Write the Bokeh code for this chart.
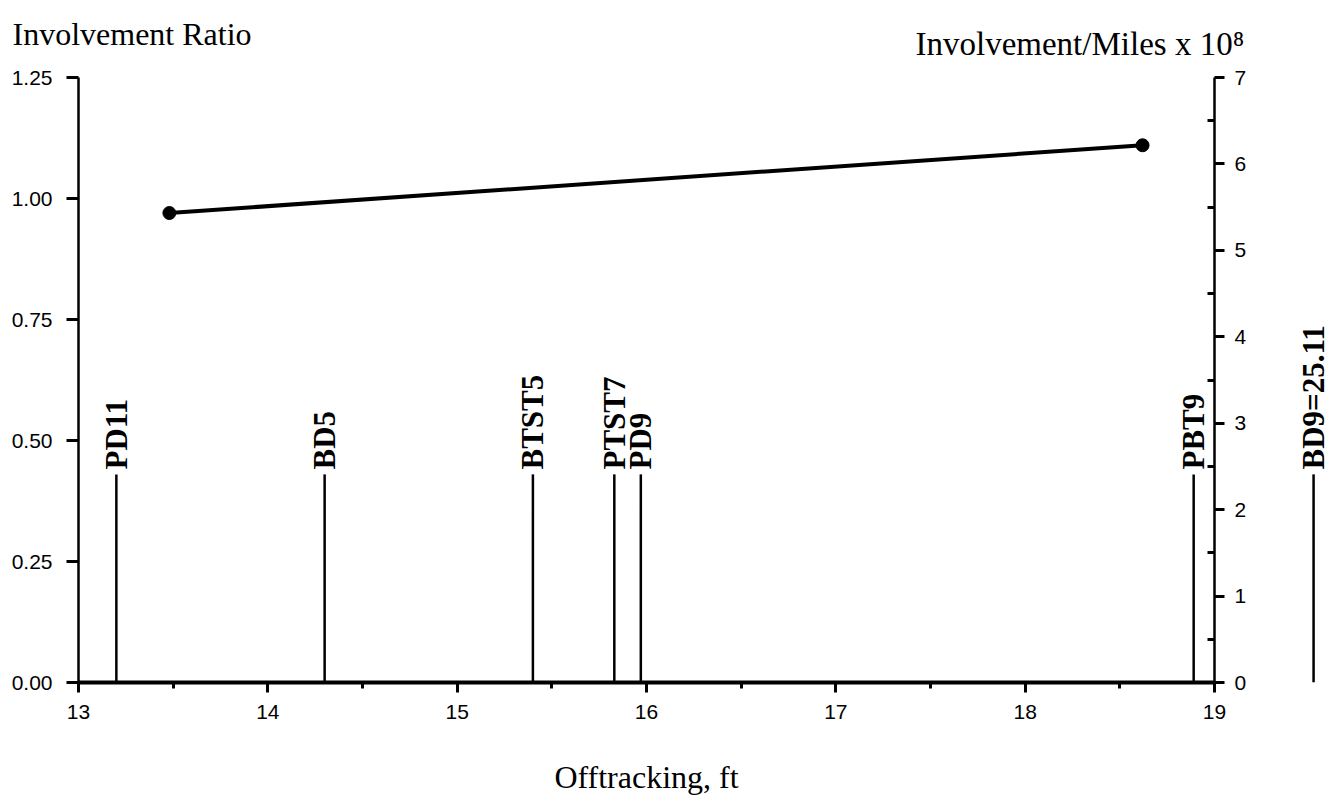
import math
from bokeh.plotting import figure
from bokeh.models import Range1d, LinearAxis, FixedTicker, NumeralTickFormatter, ColumnDataSource
from bokeh.layouts import column, row
from bokeh.embed import file_html
from bokeh.resources import INLINE
from bokeh.core.properties import value

# ---------------- data ----------------
x_ticks = [13, 14, 15, 16, 17, 18, 19]
x_minor_ticks = [13.5, 14.5, 15.5, 16.5, 17.5, 18.5]
ratio_ticks = [0.0, 0.25, 0.50, 0.75, 1.00, 1.25]
rate_ticks = [0, 1, 2, 3, 4, 5, 6, 7]
rate_minor_ticks = [0.5, 1.5, 2.5, 3.5, 4.5, 5.5, 6.5]

offtracking = [13.48, 18.62]          # ft
involvement_ratio = [0.97, 1.11]

vehicle_names = ["PD11", "BD5", "BTST5", "PTST7", "PD9", "PBT9"]
vehicle_offtracking = [13.20, 14.30, 15.40, 15.83, 15.97, 18.89]

offscale_names = ["BD9"]
offscale_offtracking = [25.11]

# ---------------- styling / layout constants ----------------
SERIF = "Liberation Serif"
SANS = "Liberation Sans"
W = 1337
H = 803
C_H = 62
ROW_H = H - C_H
A_W = 1250
B_W = W - A_W
RATIO_MAX = 1.25
RATE_MAX = 7
MARK_TOP = 0.43
LABEL_Y = 0.44
LABEL_FONT = "31px"


def bare(fig):
    fig.outline_line_color = None
    fig.background_fill_color = "white"
    fig.border_fill_color = "white"
    return fig


# ---------------- title strip ----------------
C = bare(figure(width=W, height=C_H, x_range=Range1d(0, W), y_range=Range1d(0, C_H),
                x_axis_type=None, y_axis_type=None, toolbar_location=None,
                output_backend="svg", title=None,
                min_border_left=0, min_border_right=0, min_border_top=0, min_border_bottom=0))
C.text(x=[12], y=[C_H - 33], text=["Involvement Ratio"], text_font=value(SERIF),
       text_font_size="32px", text_color="black", text_align="left",
       text_baseline="alphabetic")
C.text(x=[915], y=[C_H - 43], text=["Involvement/Miles x 10\u2078"], text_font=value(SERIF),
       text_font_size="33px", text_color="black", text_align="left",
       text_baseline="alphabetic")

# ---------------- main chart ----------------
yr = Range1d(0, RATIO_MAX)
A = bare(figure(width=A_W, height=ROW_H, x_range=Range1d(x_ticks[0], x_ticks[-1]),
                y_range=yr,
                x_axis_type=None, y_axis_type=None, toolbar_location=None,
                output_backend="svg", title=None,
                min_border_left=78, min_border_right=A_W - 1214,
                min_border_top=77 - C_H, min_border_bottom=H - 682))
A.extra_y_ranges = {"rate": Range1d(0, RATE_MAX)}

xa = LinearAxis(ticker=FixedTicker(ticks=x_ticks, minor_ticks=x_minor_ticks),
                axis_label="Offtracking, ft")
xa.axis_line_width = 4
xa.major_tick_out = 10
xa.major_tick_in = 0
xa.minor_tick_out = 6
xa.minor_tick_in = 0
xa.major_tick_line_width = 3
xa.minor_tick_line_width = 3
xa.major_label_standoff = 12
xa.major_label_text_font = SANS
xa.major_label_text_font_size = "21px"
xa.major_label_text_color = "black"
xa.axis_label_text_font = SERIF
xa.axis_label_text_font_size = "32px"
xa.axis_label_text_font_style = "normal"
xa.axis_label_text_color = "black"
xa.axis_label_standoff = 37
A.add_layout(xa, "below")

ya = LinearAxis(ticker=FixedTicker(ticks=ratio_ticks), formatter=NumeralTickFormatter(format="0.00"))
ya.axis_line_width = 2.5
ya.major_tick_out = 12
ya.major_tick_in = 0
ya.major_tick_line_width = 3
ya.minor_tick_line_color = None
ya.major_label_standoff = 14
ya.major_label_text_font = SANS
ya.major_label_text_font_size = "21px"
ya.major_label_text_color = "black"
A.add_layout(ya, "left")

yb = LinearAxis(y_range_name="rate", ticker=FixedTicker(ticks=rate_ticks, minor_ticks=rate_minor_ticks))
yb.axis_line_width = 2.5
yb.major_tick_out = 10
yb.major_tick_in = 0
yb.minor_tick_out = 0
yb.minor_tick_in = 7
yb.major_tick_line_width = 3
yb.minor_tick_line_width = 3
yb.major_label_standoff = 10
yb.major_label_text_font = SANS
yb.major_label_text_font_size = "21px"
yb.major_label_text_color = "black"
A.add_layout(yb, "right")

veh = ColumnDataSource(dict(x=vehicle_offtracking, name=vehicle_names))
A.segment(x0="x", y0=0, x1="x", y1=MARK_TOP, source=veh, line_color="black",
          line_width=2.5)
A.text(x="x", y=LABEL_Y, text="name", source=veh, angle=math.pi / 2,
       text_font=value(SERIF), text_font_style="bold", text_font_size=LABEL_FONT,
       text_color="black", text_align="left", text_baseline="middle")

A.line(offtracking, involvement_ratio, line_color="black", line_width=4)
A.scatter(offtracking, involvement_ratio, marker="circle", size=13, color="black")

# ---------------- off-scale strip (value beyond the axis) ----------------
B = bare(figure(width=B_W, height=ROW_H, x_range=Range1d(24.965, 25.165),
                y_range=yr,
                x_axis_type=None, y_axis_type=None, toolbar_location=None,
                output_backend="svg", title=None,
                min_border_left=0, min_border_right=0,
                min_border_top=77 - C_H, min_border_bottom=H - 682))
off = ColumnDataSource(dict(x=offscale_offtracking,
                            name=[f"{n}={v:.2f}" for n, v in zip(offscale_names, offscale_offtracking)]))
B.segment(x0="x", y0=0, x1="x", y1=MARK_TOP, source=off, line_color="black",
          line_width=2.5)
B.text(x="x", y=LABEL_Y, text="name", source=off, angle=math.pi / 2,
       text_font=value(SERIF), text_font_style="bold", text_font_size=LABEL_FONT,
       text_color="black", text_align="left", text_baseline="middle")

layout = column(C, row(A, B))
open("out.html", "w").write(file_html(layout, INLINE))
